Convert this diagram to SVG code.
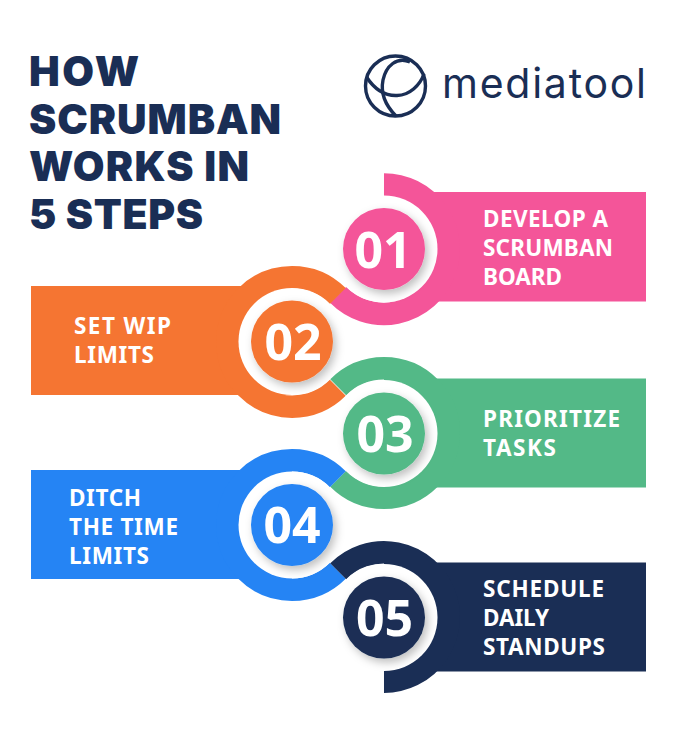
<svg xmlns="http://www.w3.org/2000/svg" width="677" height="734" viewBox="0 0 677 734">
<style>
.title{font-family:"Inter","Liberation Sans",sans-serif;font-weight:900;font-size:41px;fill:#1a2e55}
.label{font-family:"Noto Sans","DejaVu Sans",sans-serif;font-weight:700;font-size:22.5px;fill:#fff}
.num{font-family:"Noto Sans","DejaVu Sans",sans-serif;font-weight:700;font-size:50px;fill:#fff;text-anchor:middle}
.ring{fill:none;stroke-width:22.5}
.logo{fill:none;stroke:#1a2e55;stroke-width:3.4}
</style>
<defs>
<filter id="sh" x="-30%" y="-30%" width="170%" height="170%"><feDropShadow dx="3" dy="4" stdDeviation="4" flood-color="#000" flood-opacity="0.25"/></filter>
</defs>
<rect width="677" height="734" fill="#fff"/>
<g id="title" class="title">
<text x="29" y="85.500" textLength="110">HOW</text>
<text x="29" y="133.500" textLength="252">SCRUMBAN</text>
<text x="29" y="181" textLength="220">WORKS IN</text>
<text x="29" y="229" textLength="174">5 STEPS</text>
</g>
<g id="logo">
<circle class="logo" cx="395.500" cy="86" r="30"/>
<path class="logo" d="M366.500 77C375 90 385 96 397 95.500C410 95 420 85 424 74"/>
<path class="logo" d="M410 62C397 56 386 66 383 80C380 95 387 107 396 116"/>
<text x="442" y="98.300" font-family="Inter,sans-serif" font-size="41" fill="#1a2e55" textLength="204">mediatool</text>
</g>
<g id="step1">
<rect x="384" y="192" width="262" height="109.500" fill="#f45599"/>
<path class="ring" stroke="#f45599" d="M384 184.400A64.750 64.750 0 1 1 338.200 295"/>
<circle cx="384" cy="249" r="53.500" fill="#fff"/>
<circle cx="384" cy="249" r="41" fill="#f45599" filter="url(#sh)"/>
<text class="num" x="383" y="267.500">01</text>
<text class="label" x="483" y="227.300" textLength="125">DEVELOP A</text>
<text class="label" x="483" y="256.300" textLength="130">SCRUMBAN</text>
<text class="label" x="483" y="285" textLength="79">BOARD</text>
</g>
<g id="step2">
<rect x="31" y="286" width="261" height="109" fill="#f57532"/>
<path class="ring" stroke="#f57532" d="M337.800 296A64.750 64.750 0 1 0 337.800 387.800"/>
<circle cx="292" cy="341.500" r="53.500" fill="#fff"/>
<circle cx="292" cy="341.500" r="41" fill="#f57532" filter="url(#sh)"/>
<text class="num" x="293" y="359.500">02</text>
<text class="label" x="74" y="334" textLength="97">SET WIP</text>
<text class="label" x="74" y="363" textLength="80">LIMITS</text>
</g>
<g id="step3">
<rect x="384" y="378.500" width="262" height="109" fill="#53b987"/>
<path class="ring" stroke="#53b987" d="M338.200 387.200A64.750 64.750 0 1 1 338.200 478.800"/>
<circle cx="384" cy="433.500" r="53.500" fill="#fff"/>
<circle cx="384" cy="433.500" r="41" fill="#53b987" filter="url(#sh)"/>
<text class="num" x="385" y="451.500">03</text>
<text class="label" x="483" y="426.500" textLength="137">PRIORITIZE</text>
<text class="label" x="483" y="455.500" textLength="73">TASKS</text>
</g>
<g id="step4">
<rect x="31" y="470" width="261" height="109" fill="#2584f4"/>
<path class="ring" stroke="#2584f4" d="M337.800 479.200A64.750 64.750 0 1 0 337.800 570.800"/>
<circle cx="292" cy="525" r="53.500" fill="#fff"/>
<circle cx="292" cy="525" r="41" fill="#2584f4" filter="url(#sh)"/>
<text class="num" x="292" y="543">04</text>
<text class="label" x="69" y="505.500" textLength="72">DITCH</text>
<text class="label" x="69" y="534.500" textLength="109">THE TIME</text>
<text class="label" x="69" y="563.500" textLength="80">LIMITS</text>
</g>
<g id="step5">
<rect x="384" y="562.500" width="262" height="109" fill="#1a2e55"/>
<path class="ring" stroke="#1a2e55" d="M338.200 571.200A64.750 64.750 0 1 1 384 681.750"/>
<circle cx="384" cy="617.500" r="53.500" fill="#fff"/>
<circle cx="384" cy="617.500" r="41" fill="#1a2e55" filter="url(#sh)"/>
<text class="num" x="384.500" y="635.500">05</text>
<text class="label" x="483" y="597" textLength="121">SCHEDULE</text>
<text class="label" x="483" y="626" textLength="66">DAILY</text>
<text class="label" x="483" y="655" textLength="122">STANDUPS</text>
</g>
</svg>
